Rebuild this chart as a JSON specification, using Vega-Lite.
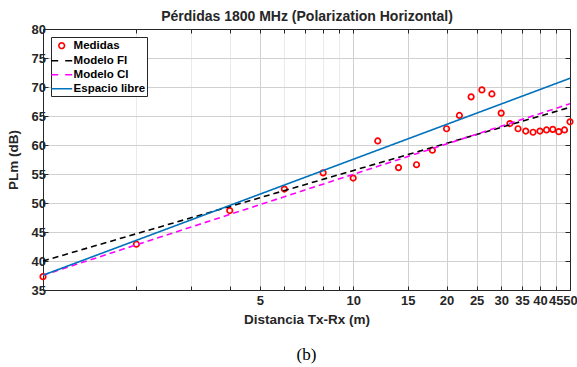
{
  "$schema": "https://vega.github.io/schema/vega-lite/v6.json",
  "width": 527,
  "height": 261,
  "autosize": {"type": "none"},
  "padding": {"top": 29, "left": 43, "right": 7, "bottom": 77},
  "background": "white",
  "title": {
    "text": "(b)",
    "orient": "bottom",
    "anchor": "middle",
    "frame": "group",
    "font": "Liberation Serif",
    "fontSize": 17,
    "fontWeight": "normal",
    "color": "black",
    "offset": 21
  },
  "config": {
    "view": {"stroke": null},
    "axis": {
      "labelFont": "Liberation Sans",
      "labelFontWeight": "bold",
      "labelFontSize": 13,
      "labelColor": "#262626",
      "titleFont": "Liberation Sans",
      "titleFontWeight": "bold",
      "titleFontSize": 13.5,
      "titleColor": "#262626",
      "domainColor": "#262626",
      "tickColor": "#262626",
      "domainWidth": 1,
      "tickWidth": 1
    }
  },
  "datasets": {
    "meas": [
      {"d": 1, "pl": 37.3, "serie": "Medidas"},
      {"d": 2, "pl": 42.9, "serie": "Medidas"},
      {"d": 4, "pl": 48.7, "serie": "Medidas"},
      {"d": 6, "pl": 52.4, "serie": "Medidas"},
      {"d": 8, "pl": 55.2, "serie": "Medidas"},
      {"d": 10, "pl": 54.3, "serie": "Medidas"},
      {"d": 12, "pl": 60.7, "serie": "Medidas"},
      {"d": 14, "pl": 56.1, "serie": "Medidas"},
      {"d": 16, "pl": 56.6, "serie": "Medidas"},
      {"d": 18, "pl": 59.1, "serie": "Medidas"},
      {"d": 20, "pl": 62.8, "serie": "Medidas"},
      {"d": 22, "pl": 65.1, "serie": "Medidas"},
      {"d": 24, "pl": 68.3, "serie": "Medidas"},
      {"d": 26, "pl": 69.5, "serie": "Medidas"},
      {"d": 28, "pl": 68.8, "serie": "Medidas"},
      {"d": 30, "pl": 65.5, "serie": "Medidas"},
      {"d": 32, "pl": 63.7, "serie": "Medidas"},
      {"d": 34, "pl": 62.8, "serie": "Medidas"},
      {"d": 36, "pl": 62.4, "serie": "Medidas"},
      {"d": 38, "pl": 62.2, "serie": "Medidas"},
      {"d": 40, "pl": 62.4, "serie": "Medidas"},
      {"d": 42, "pl": 62.6, "serie": "Medidas"},
      {"d": 44, "pl": 62.7, "serie": "Medidas"},
      {"d": 46, "pl": 62.3, "serie": "Medidas"},
      {"d": 48, "pl": 62.6, "serie": "Medidas"},
      {"d": 50, "pl": 64.0, "serie": "Medidas"}
    ],
    "models": [
      {"d": 1, "pl": 40.0, "serie": "Modelo FI"},
      {"d": 50, "pl": 66.5, "serie": "Modelo FI"},
      {"d": 1, "pl": 37.55, "serie": "Modelo CI"},
      {"d": 50, "pl": 67.1, "serie": "Modelo CI"},
      {"d": 1, "pl": 37.55, "serie": "Espacio libre"},
      {"d": 50, "pl": 71.5, "serie": "Espacio libre"}
    ]
  },
  "resolve": {"axis": {"x": "independent", "y": "independent"}},
  "encoding": {
    "color": {
      "field": "serie", "type": "nominal",
      "scale": {
        "domain": ["Medidas", "Modelo FI", "Modelo CI", "Espacio libre"],
        "range": ["#ff0000", "#000000", "#ff00ff", "#0072bd"]
      },
      "legend": {
        "orient": "top-left",
        "offset": 7.8,
        "title": null,
        "fillColor": "white",
        "strokeColor": "#262626",
        "padding": 1.7,
        "rowPadding": 1,
        "symbolSize": 144,
        "symbolType": "stroke",
        "symbolStrokeWidth": 1.6,
        "symbolOffset": 2,
        "labelOffset": 4.9,
        "labelFont": "Liberation Sans",
        "labelFontWeight": "bold",
        "labelFontSize": 11.5,
        "labelColor": "black",
        "encode": {
          "symbols": {
            "update": {
              "shape": {"signal": "datum.value === 'Medidas' ? 'M-0.47,0A0.47,0.47 0 1,0 0.47,0A0.47,0.47 0 1,0 -0.47,0Z' : 'M-1.75,0H1.75'"},
              "strokeDash": {"signal": "datum.value === 'Modelo FI' || datum.value === 'Modelo CI' ? [7, 7] : [1, 0]"},
              "fill": {"value": "transparent"},
              "opacity": {"value": 1}
            }
          }
        }
      }
    }
  },
  "layer": [
    {
      "data": {"name": "meas"},
      "mark": {"type": "point", "shape": "circle", "filled": false, "size": 30, "strokeWidth": 1.7, "opacity": 1},
      "encoding": {
        "x": {
          "field": "d", "type": "quantitative",
          "scale": {"type": "log", "domain": [1, 50], "nice": false, "zero": false},
          "axis": {
            "orient": "bottom",
            "title": "Distancia Tx-Rx (m)",
            "titlePadding": 5,
            "values": [2, 3, 4, 5, 6, 7, 8, 9, 10, 15, 20, 25, 30, 35, 40, 45, 50],
            "labelExpr": "indexof([2,3,4,6,7,8,9], datum.value) >= 0 ? '' : datum.label",
            "labelPadding": 8,
            "labelFlush": false,
            "labelOverlap": false,
            "tickSize": -4,
            "grid": true,
            "gridColor": {"condition": {"test": "indexof([2,3,4,6,7,8,9], datum.value) >= 0", "value": "#ebebeb"}, "value": "#d0d0d0"},
            "gridWidth": 1
          }
        },
        "y": {
          "field": "pl", "type": "quantitative",
          "scale": {"domain": [35, 80], "nice": false, "zero": false},
          "axis": {
            "orient": "left",
            "title": "PLm (dB)",
            "titlePadding": 10.5,
            "values": [35, 40, 45, 50, 55, 60, 65, 70, 75, 80],
            "labelPadding": 2.5,
            "labelFlush": false,
            "tickSize": -5,
            "grid": true,
            "gridColor": "#d0d0d0"
          }
        }
      }
    },
    {
      "data": {"name": "models"},
      "mark": {"type": "line", "strokeWidth": 1.6},
      "encoding": {
        "x": {
          "field": "d", "type": "quantitative",
          "axis": {
            "orient": "top",
            "title": "Pérdidas 1800 MHz (Polarization Horizontal)",
            "titleFontSize": 14,
            "titlePadding": 5,
            "values": [2, 3, 4, 5, 6, 7, 8, 9, 10, 15, 20, 25, 30, 35, 40, 45, 50],
            "labels": false,
            "tickSize": -4,
            "grid": false
          }
        },
        "y": {
          "field": "pl", "type": "quantitative",
          "axis": {
            "orient": "right",
            "title": null,
            "values": [35, 40, 45, 50, 55, 60, 65, 70, 75, 80],
            "labels": false,
            "tickSize": -5,
            "grid": false
          }
        },
        "strokeDash": {
          "field": "serie", "type": "nominal",
          "scale": {"domain": ["Modelo FI", "Modelo CI", "Espacio libre"], "range": [[6, 4], [6, 4], [1, 0]]},
          "legend": null
        },
        "order": {"field": "d", "type": "quantitative"}
      }
    }
  ]
}
